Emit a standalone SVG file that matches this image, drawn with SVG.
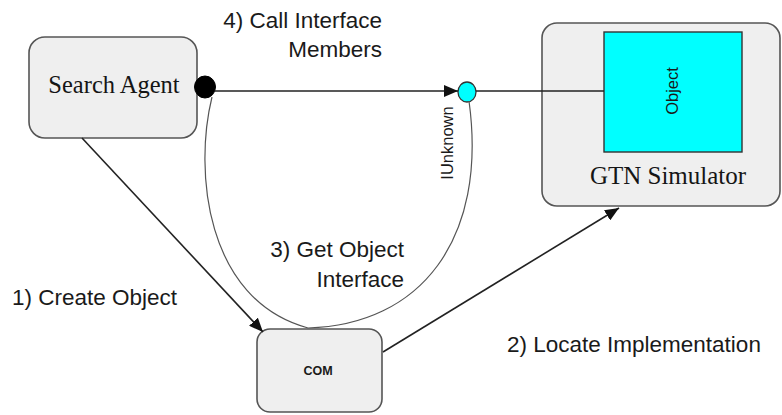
<svg xmlns="http://www.w3.org/2000/svg" width="782" height="415" viewBox="0 0 782 415">
  <defs>
    <marker id="arrow" viewBox="0 0 14 12" refX="14" refY="6" markerWidth="14" markerHeight="12" markerUnits="userSpaceOnUse" orient="auto">
      <path d="M0,0 L14,6 L0,12 Z" fill="#111"/>
    </marker>
  </defs>
  <style>
    .box { fill: #efefef; stroke: #555; stroke-width: 1.6; }
    .serif { font-family: "Liberation Serif", "Times New Roman", serif; fill: #151515; }
    .sans { font-family: "Liberation Sans", Arial, sans-serif; fill: #1a1a1a; }
    .label { font-size: 22.5px; }
    .line { fill: none; stroke: #222; stroke-width: 1.6; }
    .thin { fill: none; stroke: #555; stroke-width: 1.2; }
  </style>
  <rect width="782" height="415" fill="#ffffff"/>

  <!-- components -->
  <g id="search-agent">
    <rect class="box" x="29" y="37" width="168" height="101" rx="16" ry="16"/>
    <text class="serif" x="114" y="93" font-size="24.5" text-anchor="middle">Search Agent</text>
  </g>

  <g id="gtn-simulator">
    <rect class="box" x="542" y="23" width="238" height="183" rx="15" ry="15"/>
    <text class="serif" x="668" y="184" font-size="25" text-anchor="middle">GTN Simulator</text>
  </g>

  <g id="object">
    <rect x="604" y="32" width="138" height="120" fill="#00ffff" stroke="#333" stroke-width="1.4"/>
    <text class="sans" x="0" y="0" font-size="16.5" text-anchor="middle" transform="translate(678,91) rotate(-90)">Object</text>
  </g>

  <g id="com">
    <rect class="box" x="257" y="329" width="125" height="83" rx="13" ry="13"/>
    <text class="sans" x="318" y="375" font-size="12.5" font-weight="bold" text-anchor="middle">COM</text>
  </g>

  <g id="client-port">
    <ellipse cx="205" cy="87" rx="10.5" ry="11" fill="#000" stroke="#000" stroke-width="1"/>
  </g>

  <g id="iunknown">
    <ellipse cx="467" cy="92" rx="9" ry="10" fill="#00ffff" stroke="#333" stroke-width="1.3"/>
    <text class="sans" x="0" y="0" font-size="16.5" text-anchor="middle" transform="translate(453,143) rotate(-90)">IUnknown</text>
  </g>

  <!-- connectors -->
  <g id="connectors">
    <line class="line" x1="215" y1="91" x2="458" y2="91" marker-end="url(#arrow)"/>
    <line class="line" x1="476" y1="91" x2="604" y2="91"/>
    <line class="line" x1="82" y1="138" x2="263" y2="332" marker-end="url(#arrow)"/>
    <line class="line" x1="383" y1="352" x2="619" y2="208" marker-end="url(#arrow)"/>
    <path class="thin" d="M212,97 C194,170 205,300 308,328 C420,325 488,240 469,101"/>
  </g>

  <!-- step labels -->
  <g id="labels" class="sans label">
    <text x="382" y="28" text-anchor="end">4) Call Interface</text>
    <text x="382" y="57" text-anchor="end">Members</text>
    <text x="404" y="257" text-anchor="end">3) Get Object</text>
    <text x="404" y="287" text-anchor="end">Interface</text>
    <text x="12" y="305">1) Create Object</text>
    <text x="507" y="352">2) Locate Implementation</text>
  </g>
</svg>
